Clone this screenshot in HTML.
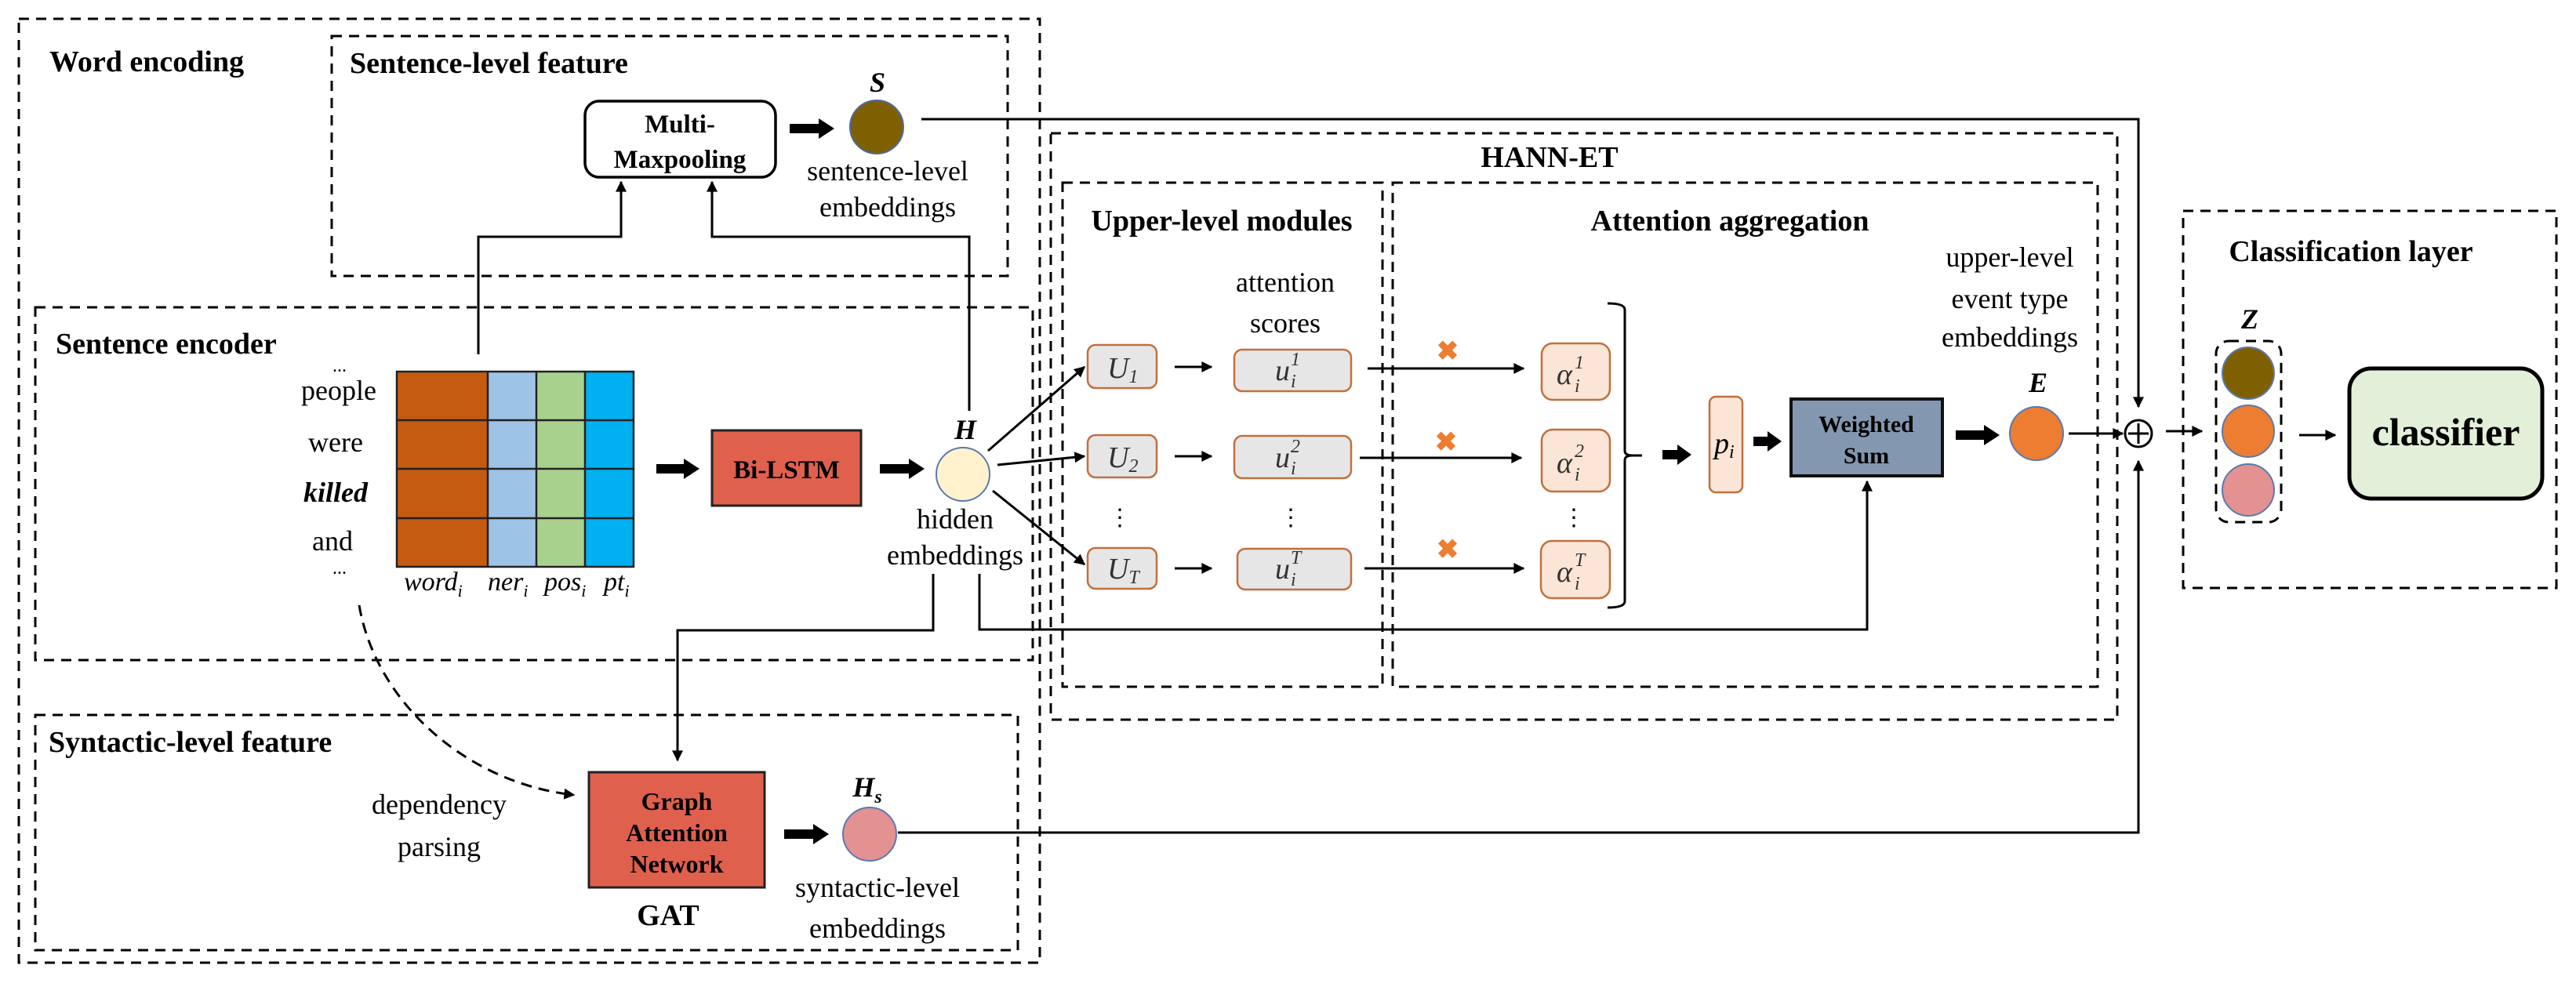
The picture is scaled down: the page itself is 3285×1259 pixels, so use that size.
<!DOCTYPE html>
<html><head><meta charset="utf-8"><style>
html,body{margin:0;padding:0;background:#fff;}
svg, svg text{font-family:"Liberation Serif","DejaVu Serif",serif;}
.b{font-weight:bold;}
.d{fill:none;stroke:#000;stroke-width:3;stroke-dasharray:13 9;}
.l{fill:none;stroke:#000;stroke-width:3;}
.m{font-style:italic;}
</style></head><body>
<svg width="3285" height="1254" viewBox="0 0 3285 1254" xmlns="http://www.w3.org/2000/svg" font-family="Liberation Serif, serif">
<defs>
<marker id="a2" viewBox="0 0 10 10" markerWidth="16" markerHeight="14" refX="9" refY="5" orient="auto" markerUnits="userSpaceOnUse"><path d="M0,0 L10,5 L0,10 z" fill="#000"/></marker>
</defs>
<rect class="d" x="24" y="24" width="1302" height="1204"/>
<rect class="d" x="423" y="46" width="862" height="306"/>
<rect class="d" x="45" y="392" width="1272" height="450"/>
<rect class="d" x="45" y="912" width="1253" height="300"/>
<rect class="d" x="1340" y="170" width="1360" height="748"/>
<rect class="d" x="1355" y="233" width="408" height="643"/>
<rect class="d" x="1776" y="233" width="899" height="643"/>
<rect class="d" x="2784" y="269" width="476" height="481"/>
<rect class="d" x="2826" y="435" width="83" height="231" rx="16"/>

<text class="b" x="63" y="91" font-size="38">Word encoding</text>
<text class="b" x="446" y="93" font-size="38">Sentence-level feature</text>
<text class="b" x="71" y="451" font-size="38">Sentence encoder</text>
<text class="b" x="62" y="959" font-size="38">Syntactic-level feature</text>
<text class="b" x="1976" y="213" font-size="38" text-anchor="middle">HANN-ET</text>
<text class="b" x="1558" y="294" font-size="38" text-anchor="middle">Upper-level modules</text>
<text class="b" x="2206" y="294" font-size="38" text-anchor="middle">Attention aggregation</text>
<text class="b" x="2998" y="333" font-size="38" text-anchor="middle">Classification layer</text>

<rect x="746" y="129" width="243" height="97" rx="18" fill="#fff" stroke="#000" stroke-width="3.5"/>
<text class="b" x="867" y="169" font-size="33" text-anchor="middle">Multi-</text>
<text class="b" x="867" y="214" font-size="33" text-anchor="middle">Maxpooling</text>
<path d="M1007,164 H1048" stroke="#000" stroke-width="12"/><path d="M1044,151 L1064,164 L1044,177z" fill="#000"/>
<circle cx="1118" cy="162" r="34" fill="#7F6000" stroke="#4a6aa0" stroke-width="2"/>
<text class="b m" x="1119" y="117" font-size="36" text-anchor="middle">S</text>
<text x="1132" y="230" font-size="36" text-anchor="middle">sentence-level</text>
<text x="1132" y="276" font-size="36" text-anchor="middle">embeddings</text>
<path class="l" d="M1175,152 H2727 V519" marker-end="url(#a2)"/>

<g font-size="36" text-anchor="middle">
<text x="433" y="474" font-size="24">...</text>
<text x="432" y="510">people</text>
<text x="428" y="576">were</text>
<text x="428" y="640" class="b m">killed</text>
<text x="424" y="702">and</text>
<text x="433" y="732" font-size="24">...</text>
</g>
<rect x="506" y="474" width="116" height="249" fill="#C55A11"/>
<rect x="622" y="474" width="62" height="249" fill="#9DC3E6"/>
<rect x="684" y="474" width="62" height="249" fill="#A9D18E"/>
<rect x="746" y="474" width="62" height="249" fill="#00B0F0"/>
<g stroke="#222" stroke-width="2.5" fill="none">
<rect x="506" y="474" width="302" height="249"/>
<path d="M622,474V723M684,474V723M746,474V723M506,536H808M506,598H808M506,661H808"/>
</g>
<g class="m" font-size="34">
<text x="515" y="753">word<tspan font-size="22" dy="8">i</tspan></text>
<text x="622" y="753">ner<tspan font-size="22" dy="8">i</tspan></text>
<text x="694" y="753">pos<tspan font-size="22" dy="8">i</tspan></text>
<text x="770" y="753">pt<tspan font-size="22" dy="8">i</tspan></text>
</g>
<path class="l" d="M610,452 V302 H792 V232" marker-end="url(#a2)"/>
<path class="l" d="M1236,524 V302 H908 V232" marker-end="url(#a2)"/>

<path d="M837,598 H875" stroke="#000" stroke-width="12"/><path d="M872,585 L892,598 L872,611z" fill="#000"/>
<rect x="908" y="549" width="190" height="96" fill="#E0604E" stroke="#222" stroke-width="3"/>
<text class="b" x="1003" y="610" font-size="33" text-anchor="middle">Bi-LSTM</text>
<path d="M1122,598 H1162" stroke="#000" stroke-width="12"/><path d="M1159,585 L1179,598 L1159,611z" fill="#000"/>
<circle cx="1228" cy="605" r="34" fill="#FFF2CC" stroke="#5a7ab0" stroke-width="2"/>
<text class="b m" x="1231" y="560" font-size="36" text-anchor="middle">H</text>
<text x="1218" y="674" font-size="36" text-anchor="middle">hidden</text>
<text x="1218" y="720" font-size="36" text-anchor="middle">embeddings</text>
<path class="l" d="M1260,575 L1383,468" marker-end="url(#a2)"/>
<path class="l" d="M1272,593 L1383,582" marker-end="url(#a2)"/>
<path class="l" d="M1266,626 L1383,720" marker-end="url(#a2)"/>
<path class="l" d="M1190,732 V804 H864 V970" marker-end="url(#a2)"/>
<path class="l" d="M1249,732 V803 H2381 V614" marker-end="url(#a2)"/>

<path d="M458,772 C480,900 600,1000 732,1014" fill="none" stroke="#000" stroke-width="3" stroke-dasharray="14 9" marker-end="url(#a2)"/>
<text x="560" y="1038" font-size="36" text-anchor="middle">dependency</text>
<text x="560" y="1092" font-size="36" text-anchor="middle">parsing</text>
<rect x="751" y="985" width="224" height="147" fill="#E0604E" stroke="#222" stroke-width="3"/>
<text class="b" x="863" y="1033" font-size="32" text-anchor="middle">Graph</text>
<text class="b" x="863" y="1073" font-size="32" text-anchor="middle">Attention</text>
<text class="b" x="863" y="1113" font-size="32" text-anchor="middle">Network</text>
<text class="b" x="852" y="1180" font-size="38" text-anchor="middle">GAT</text>
<path d="M1000,1064 H1040" stroke="#000" stroke-width="12"/><path d="M1037,1051 L1057,1064 L1037,1077z" fill="#000"/>
<circle cx="1109" cy="1064" r="34" fill="#E39191" stroke="#5a7ab0" stroke-width="2"/>
<text class="b m" x="1106" y="1016" font-size="36" text-anchor="middle">H<tspan font-size="24" dy="8">s</tspan></text>
<text x="1119" y="1144" font-size="36" text-anchor="middle">syntactic-level</text>
<text x="1119" y="1196" font-size="36" text-anchor="middle">embeddings</text>
<path class="l" d="M1145,1062 H2727 V588" marker-end="url(#a2)"/>

<text x="1639" y="372" font-size="36" text-anchor="middle">attention</text>
<text x="1639" y="424" font-size="36" text-anchor="middle">scores</text>
<g fill="#E7E6E6" stroke="#C07040" stroke-width="2.5">
<rect x="1387" y="440" width="88" height="55" rx="10"/>
<rect x="1387" y="555" width="88" height="54" rx="10"/>
<rect x="1387" y="699" width="88" height="52" rx="10"/>
<rect x="1574" y="446" width="149" height="53" rx="10"/>
<rect x="1574" y="556" width="149" height="54" rx="10"/>
<rect x="1578" y="700" width="145" height="52" rx="10"/>
</g>
<g fill="#FBE5D6" stroke="#C07040" stroke-width="2.5">
<rect x="1966" y="438" width="87" height="72" rx="14"/>
<rect x="1966" y="548" width="87" height="79" rx="14"/>
<rect x="1965" y="690" width="88" height="73" rx="14"/>
<rect x="2180" y="506" width="42" height="122" rx="8"/>
</g>
<g class="m" font-size="38" fill="#333">
<text x="1412" y="482">U<tspan font-size="24" dy="6">1</tspan></text>
<text x="1412" y="596">U<tspan font-size="24" dy="6">2</tspan></text>
<text x="1412" y="738">U<tspan font-size="24" dy="6">T</tspan></text>
<text x="1626" y="485">u</text><text x="1646" y="494" font-size="24">i</text><text x="1646" y="466" font-size="24">1</text>
<text x="1626" y="596">u</text><text x="1646" y="605" font-size="24">i</text><text x="1646" y="577" font-size="24">2</text>
<text x="1626" y="738">u</text><text x="1646" y="747" font-size="24">i</text><text x="1646" y="719" font-size="24">T</text>
<text x="1985" y="490">&#945;</text><text x="2008" y="500" font-size="24">i</text><text x="2008" y="470" font-size="24">1</text>
<text x="1985" y="603">&#945;</text><text x="2008" y="613" font-size="24">i</text><text x="2008" y="583" font-size="24">2</text>
<text x="1985" y="742">&#945;</text><text x="2008" y="752" font-size="24">i</text><text x="2008" y="722" font-size="24">T</text>
</g>
<g font-size="30" text-anchor="middle"><text x="1428" y="670">⋮</text><text x="1646" y="670">⋮</text><text x="2007" y="670">⋮</text></g>
<path class="l" d="M1498,468 H1545" marker-end="url(#a2)"/>
<path class="l" d="M1498,582 H1545" marker-end="url(#a2)"/>
<path class="l" d="M1498,725 H1545" marker-end="url(#a2)"/>
<path class="l" d="M1744,470 H1943" marker-end="url(#a2)"/>
<path class="l" d="M1734,584 H1940" marker-end="url(#a2)"/>
<path class="l" d="M1740,725 H1943" marker-end="url(#a2)"/>
<g fill="#ED7D31" font-size="34" font-weight="bold" text-anchor="middle" font-family="DejaVu Sans,sans-serif"><text x="1846" y="459">✖</text><text x="1844" y="575">✖</text><text x="1846" y="712">✖</text></g>
<text class="m" x="2186" y="578" font-size="38">p<tspan font-size="24" dy="6">i</tspan></text>
<path class="l" stroke-width="2" d="M2050,387 Q2072,387 2072,395 V575 Q2072,581 2082,581 Q2072,581 2072,587 V767 Q2072,775 2050,775"/>
<path class="l" stroke-width="2" d="M2082,581 H2094"/>
<path d="M2120,580 H2142" stroke="#000" stroke-width="12"/><path d="M2139,567 L2157,580 L2139,593z" fill="#000"/>
<path d="M2236,563 H2257" stroke="#000" stroke-width="12"/><path d="M2254,550 L2272,563 L2254,576z" fill="#000"/>
<rect x="2284" y="509" width="193" height="98" fill="#8497B0" stroke="#111" stroke-width="4"/>
<text class="b" x="2380" y="551" font-size="30" text-anchor="middle">Weighted</text>
<text class="b" x="2380" y="591" font-size="30" text-anchor="middle">Sum</text>
<path d="M2494,555 H2533" stroke="#000" stroke-width="12"/><path d="M2530,542 L2550,555 L2530,568z" fill="#000"/>
<circle cx="2597" cy="553" r="34" fill="#ED7D31" stroke="#5a7ab0" stroke-width="2"/>
<text class="b m" x="2599" y="500" font-size="36" text-anchor="middle">E</text>
<text x="2563" y="340" font-size="36" text-anchor="middle">upper-level</text>
<text x="2563" y="393" font-size="36" text-anchor="middle">event type</text>
<text x="2563" y="442" font-size="36" text-anchor="middle">embeddings</text>
<path class="l" d="M2638,553 H2707" marker-end="url(#a2)"/>

<circle cx="2727" cy="553" r="17" fill="#fff" stroke="#000" stroke-width="3"/>
<path d="M2714,553 H2740 M2727,540 V566" stroke="#000" stroke-width="3"/>
<path class="l" d="M2762,550 H2808" marker-end="url(#a2)"/>

<text class="b m" x="2869" y="419" font-size="36" text-anchor="middle">Z</text>
<circle cx="2867" cy="476" r="33" fill="#7F6000" stroke="#5a7ab0" stroke-width="2"/>
<circle cx="2867" cy="550" r="33" fill="#ED7D31" stroke="#5a7ab0" stroke-width="2"/>
<circle cx="2867" cy="625" r="33" fill="#E39191" stroke="#5a7ab0" stroke-width="2"/>
<path class="l" d="M2932,555 H2978" marker-end="url(#a2)"/>
<rect x="2996" y="470" width="246" height="166" rx="28" fill="#E2F0D9" stroke="#000" stroke-width="5"/>
<text class="b" x="3119" y="568" font-size="50" text-anchor="middle">classifier</text>
</svg>
</body></html>
